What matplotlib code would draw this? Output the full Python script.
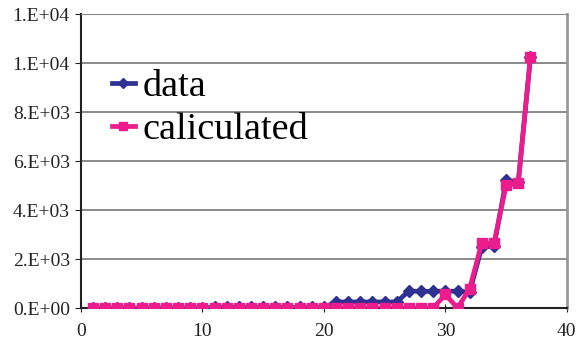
import matplotlib
matplotlib.use("Agg")
import matplotlib.pyplot as plt

# x positions 1..37
x = list(range(1, 38))

data = [5, 5, 5, 5, 5, 5, 5, 5, 5, 5,
        30, 30, 30, 30, 30, 30, 30, 30, 30, 30,
        250, 250, 250, 250, 250, 250,
        700, 680, 690, 690, 690,
        650, 2500, 2520, 5220, 5150, 10250]

# calculated series
calc = [0, 0, 0, 0, 0, 0, 0, 0, 0, 0,
        0, 0, 0, 0, 0, 0, 0, 0, 0, 0,
        0, 0, 0, 0, 0, 0,
        0, 0, 0, 560, 0,
        800, 2670, 2640, 5020, 5110, 10260]

y_ticks = [0, 2000, 4000, 6000, 8000, 10000, 12000]
y_labels = ["0.E+00", "2.E+03", "4.E+03", "6.E+03", "8.E+03", "1.E+04", "1.E+04"]

plt.rcParams['font.family'] = ['Liberation Serif', 'DejaVu Serif']

fig = plt.figure(figsize=(5.82, 3.45), dpi=100)
ax = fig.add_axes([0.139, 0.107, 0.835, 0.851])

blue = '#2e3192'
pink = '#ec1c8c'

ax.plot(x, data, color=blue, lw=3.4, marker='D', ms=6.5, label='data', zorder=3)
ax.plot(x, calc, color=pink, lw=3.4, marker='s', ms=7.5, label='caliculated', zorder=4)

ax.set_xlim(0, 40)
ax.set_ylim(0, 12000)
ax.set_xticks([0, 10, 20, 30, 40])
ax.set_yticks(y_ticks)
ax.set_yticklabels(y_labels)
ax.tick_params(axis='both', labelsize=14, colors='#222222')
ax.tick_params(axis='y', direction='out', length=4, pad=4)
ax.tick_params(axis='x', direction='inout', length=6, pad=8)

ax.grid(axis='y', color='#777777', lw=1.2)
ax.set_axisbelow(True)
ax.spines['left'].set_color('#222222')
ax.spines['bottom'].set_color('#222222')
ax.spines['left'].set_linewidth(1.5)
ax.spines['bottom'].set_linewidth(1.5)
ax.spines['top'].set_color('#888888')
ax.spines['right'].set_color('#999999')
ax.spines['right'].set_linewidth(2)

ax.legend(loc='upper left', bbox_to_anchor=(0.032, 0.865), frameon=False,
          fontsize=27.5, handlelength=0.6, handletextpad=0.2, labelspacing=0.22,
          borderaxespad=0, markerscale=0.8)

fig.savefig('out.png', dpi=100)
